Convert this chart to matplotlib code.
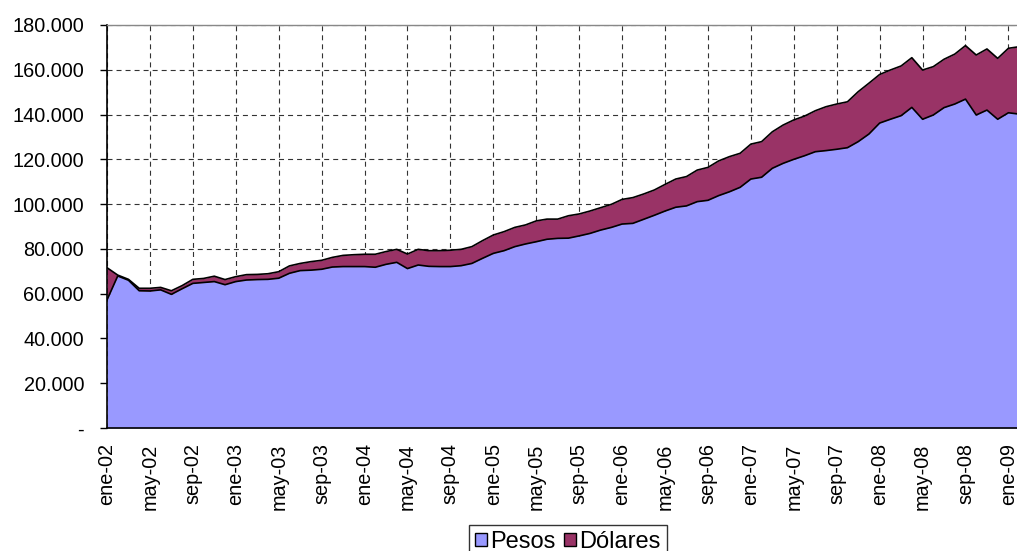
import matplotlib
matplotlib.use("Agg")
import matplotlib.pyplot as plt
from matplotlib.ticker import FuncFormatter, FixedLocator
from matplotlib.patches import Patch

plt.rcParams['font.family'] = ['Liberation Sans', 'DejaVu Sans']
plt.rcParams['lines.scale_dashes'] = False

meses = ["ene", "feb", "mar", "abr", "may", "jun", "jul", "ago", "sep", "oct", "nov", "dic"]
anios = ["02", "03", "04", "05", "06", "07", "08", "09"]
fechas = [f"{m}-{a}" for a in anios for m in meses][:86]  # ene-02 .. feb-09

# Total (Pesos + Dólares), miles
total = [71.6, 68.3, 66.4, 62.4, 62.4, 62.8, 61.3, 63.6, 66.4, 66.8, 67.8, 66.3,
         67.6, 68.5, 68.6, 68.9, 69.8, 72.4, 73.5, 74.3, 74.9, 76.2, 77.1, 77.4,
         77.6, 77.6, 78.8, 79.8, 77.7, 79.8, 79.2, 79.2, 79.4, 79.8, 81.0, 83.7,
         86.2, 87.7, 89.6, 90.7, 92.5, 93.3, 93.3, 94.8, 95.6, 96.9, 98.4, 99.9,
         102.1, 102.9, 104.5, 106.3, 108.8, 111.2, 112.3, 115.2, 116.4, 119.3, 121.2, 122.7,
         126.8, 127.9, 132.3, 135.3, 137.6, 139.3, 141.7, 143.5, 144.7, 145.7, 150.2, 154.0,
         157.9, 159.9, 161.7, 165.4, 159.9, 161.4, 164.7, 167.0, 170.8, 166.6, 169.3, 165.1,
         169.6, 170.3]
pesos = [57.2, 67.9, 66.0, 61.3, 61.2, 61.7, 59.7, 62.2, 64.6, 65.0, 65.4, 64.0,
         65.4, 66.1, 66.3, 66.4, 66.9, 69.1, 70.3, 70.5, 70.9, 71.9, 72.1, 72.1,
         72.1, 71.8, 73.1, 74.0, 71.2, 72.8, 72.2, 72.1, 72.1, 72.5, 73.5, 75.8,
         78.0, 79.2, 81.0, 82.2, 83.2, 84.3, 84.7, 84.8, 85.8, 86.9, 88.4, 89.6,
         91.1, 91.4, 93.2, 95.0, 96.9, 98.6, 99.2, 101.1, 101.7, 103.8, 105.5, 107.5,
         111.2, 112.0, 116.0, 118.2, 120.0, 121.6, 123.4, 123.9, 124.5, 125.2, 127.9, 131.3,
         136.2, 137.9, 139.5, 143.2, 137.9, 139.8, 143.1, 144.7, 146.9, 139.8, 142.0, 137.9,
         140.8, 140.2]
dolares = [round(t - p, 1) for t, p in zip(total, pesos)]

pesos_v = [v * 1000 for v in pesos]
tot_v = [(p + d) * 1000 for p, d in zip(pesos, dolares)]
x = list(range(len(fechas)))

color_pesos = "#9999FF"
color_dol = "#993366"

fig = plt.figure(figsize=(10.17, 5.51), dpi=100)
ax = fig.add_axes([107/1017, 1 - 428/551, 1 - 107/1017, (428 - 25)/551])

ax.fill_between(x, 0, pesos_v, color=color_pesos, linewidth=0, zorder=2)
ax.fill_between(x, pesos_v, tot_v, color=color_dol, linewidth=0, zorder=2)
ax.plot(x, pesos_v, color="black", lw=1.2, zorder=3)
ax.plot(x, tot_v, color="black", lw=1.2, zorder=3)

ax.set_xlim(0, 84.8)
ax.set_ylim(0, 180000)

yt = list(range(0, 180001, 20000))
ax.yaxis.set_major_locator(FixedLocator(yt))
ax.yaxis.set_major_formatter(FuncFormatter(
    lambda v, pos: "-" if v == 0 else f"{int(v):,}".replace(",", ".")))
xt = list(range(0, 85, 4))
ax.set_xticks(xt)
ax.set_xticklabels([fechas[i] for i in xt], rotation=90)

ax.tick_params(axis='y', direction='out', length=5, width=1, pad=11.5, labelsize=14.3, color='black')
ax.tick_params(axis='x', length=0, pad=11, labelsize=14.3)

ax.grid(True, which='major', axis='both', color='#333333', lw=0.8,
        linestyle=(0, (3.6, 2.9)), zorder=1)
ax.set_axisbelow(True)

ax.spines['right'].set_visible(False)
ax.spines['top'].set_color('#888888')
ax.spines['top'].set_linewidth(1.0)
ax.spines['left'].set_color('black')
ax.spines['left'].set_linewidth(1.2)
ax.spines['bottom'].set_color('black')
ax.spines['bottom'].set_linewidth(1.2)
ax.spines['bottom'].set_zorder(4)

handles = [Patch(facecolor=color_pesos, edgecolor='black', lw=1.0, label='Pesos'),
           Patch(facecolor=color_dol, edgecolor='black', lw=1.0, label='Dólares')]
leg = fig.legend(handles=handles, loc='upper center', bbox_to_anchor=(568/1017, 1 - 525/551),
                 ncol=2, fontsize=17, frameon=True, fancybox=False, borderpad=0.25,
                 handlelength=0.5, handleheight=0.5, handletextpad=0.15,
                 columnspacing=0.35, borderaxespad=0)
leg.get_frame().set_edgecolor('black')
leg.get_frame().set_linewidth(1.0)

fig.savefig("out.png", dpi=100)
